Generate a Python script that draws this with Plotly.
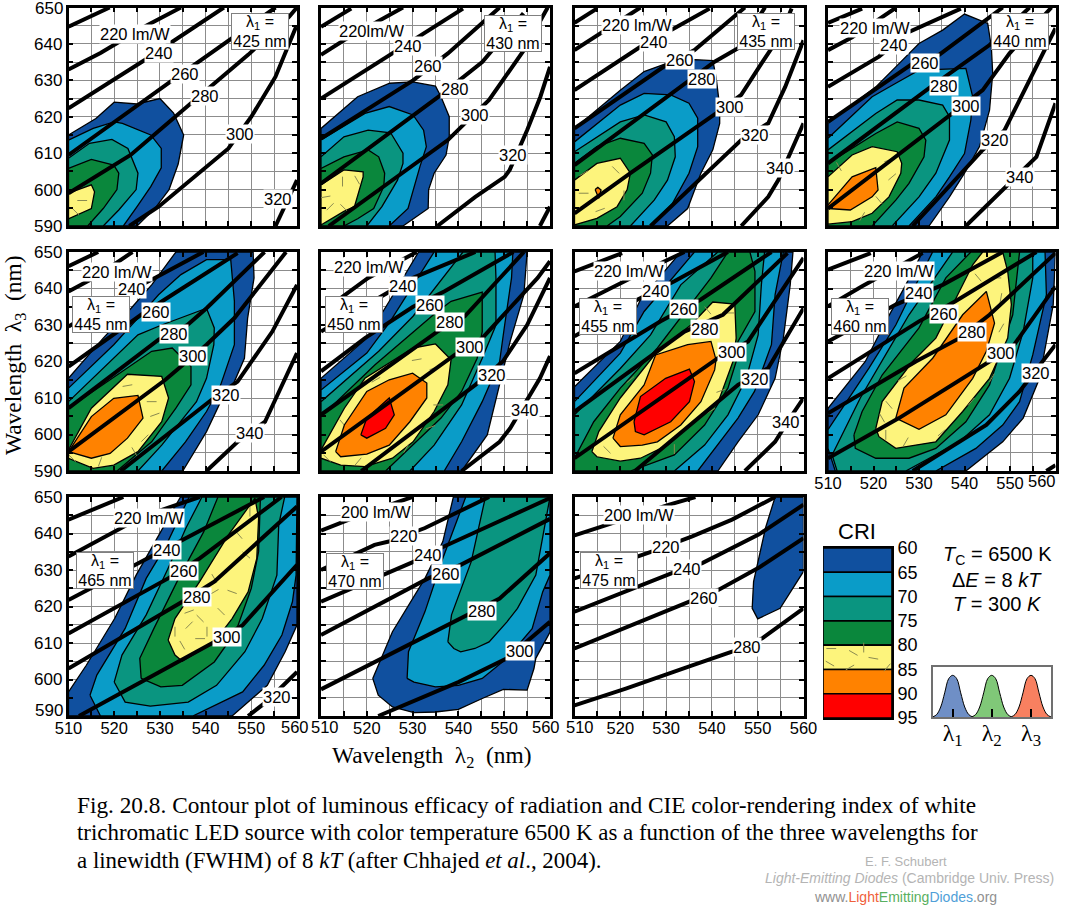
import plotly.graph_objects as go

W, H = 1066, 905
SANS = "Liberation Sans"
SERIF = "Liberation Serif"

CRI_LEVELS = [60, 65, 70, 75, 80, 85, 90, 95]
CRI_COLORS = ["#10509f", "#0a9cc8", "#0a9580", "#0a873c", "#fdf47c", "#ff8200", "#ff0000"]

# ---- lambda1 = 425 nm
P425_REGIONS = {
 60: [(510,615),(516,619.5),(520,624),(525,623.5),(530,625),(533,621),(535.2,615),(534,607),(532,600),(529,595),(525,590),(510,590)],
 65: [(510,613.6),(515.4,616.8),(520,618.6),(521.8,618.2),(528,615),(530.3,611.3),(530.3,606),(528,600.8),(525,595.3),(522,590),(510,590)],
 70: [(510,608.6),(514.6,612.7),(519.5,613.8),(523,611.3),(525.2,604.5),(524.8,600),(521,594.4),(517.6,590),(510,590)],
 75: [(510,605.8),(515,608.3),(519.9,606.7),(521,604.5),(520.6,600),(517.6,594.8),(514.2,590),(510,590)],
 80: [(510,599),(515,601.3),(515.7,599.4),(515,594.8),(510,592)],
}
P425_LINES = [
 [(510,644.7),(519,650)],
 [(510,633),(517,637.5),(527,645),(534.6,650)],
 [(510,622.3),(526.7,635.6),(544,650)],
 [(510,609.5),(532.7,630),(555.3,650)],
 [(510,599),(523.6,609.5),(536.8,623.7),(549.3,637),(558.3,647.5),(560,650)],
 [(523.3,590),(529.7,595.3),(545,611.3),(550,620),(555.3,631),(559.8,644.7)],
 [(555.3,590),(560,602.6)],
]
P425_LABELS = [(524.6,642.6,"220 lm/W"),(529.7,637.4,"240"),(535.6,631.7,"260"),(539.9,625.7,"280"),(547.6,615.4,"300"),(555.8,597.4,"320")]
P425_BOX = (551.8,643.3)
P425_DASHES = [(513,597,90),(511.5,594,-45)]

# ---- lambda1 = 430 nm
P430_REGIONS = {
 60: [(510,616.8),(518,625.5),(525,629.2),(530,629.6),(535,628.4),(536.2,625.5),(538,620),(538,614.5),(537.3,609.5),(534.7,604.5),(533.5,600),(533.4,594.8),(527.9,590),(510,590)],
 65: [(510,613.6),(519.6,620.9),(524.9,622.8),(530.1,620.5),(532.4,616.3),(533,611.8),(531.6,606.3),(529.8,598),(529,594.8),(524.9,590),(510,590)],
 70: [(510,609),(515,614.5),(520.3,616.3),(525.2,615.6),(527.9,610),(527.9,607.2),(526.7,602.6),(523.3,595.3),(520,590),(510,590)],
 75: [(510,605.8),(515,609),(520.3,610.9),(522.6,609),(523.9,604.5),(523.7,600.8),(521.5,594.8),(518,592),(515,590),(510,590)],
 80: [(510,601.3),(515,605.4),(519.2,604.9),(519.2,603.5),(517.3,595.3),(515,594),(510,590.3)],
}
P430_LINES = [
 [(510,644.7),(516.6,649.7)],
 [(510,637),(515,641),(527.9,650)],
 [(510,625),(525.6,637.4),(541,649.7)],
 [(510,614),(530.1,630),(537.7,637.4),(549,650)],
 [(510,601.7),(536.2,626),(545.2,635),(554.2,648.4)],
 [(511.7,590),(537.7,613.6),(541.4,618.2),(546.7,624.6),(554.3,638.3),(558.5,648),(559.5,650)],
 [(535.4,590),(543.7,598),(550.1,603.5),(551.2,605.4),(555,616.3),(557.9,625.5),(560,633.7)],
 [(557.8,590),(560,595.3)],
]
P430_LABELS = [(521.1,643.6,"220lm/W"),(529,639.5,"240"),(533.3,633.9,"260"),(539.2,627.7,"280"),(543.7,620.5,"300"),(552,609.5,"320")]
P430_BOX = (552,642.9)
P430_DASHES = [(514.7,602.2,0),(512,595.3,45),(515,595,-45),(517.9,602.6,-30),(511,598,80)]

# ---- lambda1 = 435 nm
P435_REGIONS = {
 60: [(510,616.8),(520,627.3),(525.2,632.4),(530,634.6),(536.2,635.7),(540.2,635.4),(540.9,631),(541.7,622.8),(541.7,618.2),(540.2,610.9),(537.6,604.5),(535.4,597.1),(534.7,594.8),(530.3,590),(510,590)],
 65: [(510,613.1),(520,623.2),(525.2,626.4),(531,626),(535,623.7),(536.9,619.6),(536.9,611.8),(535,604.5),(531.4,596.2),(526.6,590),(510,590)],
 70: [(510,610.4),(520,618.6),(525.2,620.5),(530,618.6),(531.8,614.5),(532,609),(530.3,602.6),(527.4,597.1),(522.2,590),(510,590)],
 75: [(510,607.2),(514.9,611.8),(520,614.1),(525.2,612.7),(527,609.5),(526.6,604.5),(524.8,599),(520,592.6),(517.1,590),(510,590)],
 80: [(510,602.6),(514.9,607.2),(520,608.6),(522.2,604.5),(521.5,600),(519.3,595.3),(514.9,592.1),(510,590.3)],
 85: [(514.5,600),(515.1,600.6),(515.8,599.9),(515.3,597.6)],
}
P435_LINES = [
 [(510,645.8),(514.9,649.7)],
 [(510,638.3),(515.6,642.9),(524.4,650)],
 [(510,627.3),(524.4,639.2),(531.8,644.3),(539.5,649.7)],
 [(510,616.8),(530,634.2),(536.2,638.3),(547.2,650)],
 [(510,606.7),(534.7,629.6),(540.6,635.1),(545.7,638.8),(551.6,650)],
 [(510,593.5),(522.2,604.5),(540.9,620.9),(546.4,626),(550.8,634.6),(555.2,642.9),(557.4,649.7)],
 [(526.6,590),(546.4,613.6),(552.3,618.2),(556,628.2),(560,641)],
 [(546.4,590),(552.3,598),(554.5,602.6),(560,618.2)],
]
P435_LABELS = [(523.7,645.2,"220 lm/W"),(527.4,640.4,"240"),(533,635.7,"260"),(537.9,630.3,"280"),(543.9,622.8,"300"),(549.5,615,"320"),(554.9,605.8,"340")]
P435_BOX = (551.9,643.3)
P435_DASHES = [(512,599,90),(519,605.4,-45),(512,604.5,60),(520.8,598.4,0),(515.6,594.4,70)]

# ---- lambda1 = 440 nm
P440_REGIONS = {
 60: [(510,618.2),(520.5,628.2),(524.9,633.7),(530,640.1),(535.2,643.8),(540,648.2),(545.1,645.6),(545.9,639.2),(546.2,631.9),(545.5,621.8),(543.3,611.8),(540,604.5),(536.7,598),(532.2,590),(510,590)],
 65: [(510,614.1),(519.7,625.5),(524.9,629.2),(530,632.8),(540.3,633.3),(541.8,625.5),(541.4,619.1),(540,609.9),(536.7,603.5),(533.7,598),(527.8,590),(510,590)],
 70: [(510,610.9),(520.5,620.9),(525.2,624.6),(530,624.6),(535.2,623.2),(536.7,620),(536.7,613.6),(533.7,604.5),(530,598),(524.1,590),(510,590)],
 75: [(510,607.2),(520.5,615.4),(525.2,618.6),(530,616.8),(531.5,613.6),(531.1,609),(527.8,601.7),(524.9,597.1),(519.7,590),(510,590)],
 80: [(510,603.5),(515.3,609.5),(519.7,611.8),(525.2,610.4),(526.2,607.2),(526,604.5),(523.4,598),(519.7,593.5),(515.3,591.2),(510,590.5)],
 85: [(510,595.8),(515.3,603.5),(520.5,606),(521,599.9),(519.7,598),(514.9,594.4),(510,594.8)],
}
P440_LINES = [
 [(510,645.8),(515.3,648.4),(517.5,649.7)],
 [(510,638.3),(515.3,641.8),(525,650)],
 [(510,628.2),(521.2,636.5),(527.8,643.3),(539.2,649.7)],
 [(510,618.6),(528.6,634.6),(534.4,637),(545.5,647.5),(548.4,650)],
 [(510,607.2),(532.6,628.2),(545.5,639.7),(554.3,650)],
 [(510,594.8),(537.4,620.9),(544,627.3),(549.9,637.4),(557.3,647.5),(559.1,650)],
 [(528.6,590),(544,610.9),(548.8,616.3),(555.1,631.9),(559.5,642.9),(560,644.3)],
 [(540.3,590),(548.4,599.9),(555.8,609),(560,623.7)],
]
P440_LABELS = [(520.3,644.5,"220 lm/W"),(524.5,639.7,"240"),(531.4,634.8,"260"),(535.6,628.4,"280"),(540.3,622.9,"300"),(546.6,613.6,"320"),(552.1,603.5,"340")]
P440_BOX = (552.3,643.3)
P440_DASHES = [(512.4,606.3,-30),(524.1,603.5,50),(523.4,608.1,70),(517.5,592.6,30),(521.2,597.1,-40)]

# ---- lambda1 = 445 nm
P445_REGIONS = {
 60: [(510,615.4),(517.6,626.4),(523.7,634.6),(528.2,641),(533.5,650),(550.4,650),(550.6,642.9),(549.2,631.9),(548.5,620.9),(546.3,614.5),(543.3,609),(540.2,600.8),(535,590),(510,590)],
 65: [(510,612.7),(519.9,624.6),(525.2,631.9),(529.7,638.3),(534.6,643.8),(540.2,647.9),(545.5,647.9),(546.3,636.5),(546.3,624.6),(543.3,613.6),(540.2,606.3),(535.6,598),(530.4,590),(510,590)],
 70: [(510,609),(525.2,627.3),(530.4,630),(540.2,634.6),(541.9,629.2),(541.8,624.6),(540.2,615.4),(538,609),(530.4,597.1),(525.2,590),(510,590)],
 75: [(510,607.2),(528.2,622.8),(532.7,623.7),(536.8,618.6),(536.8,613.6),(533.5,607.2),(528.2,598),(520.6,590),(510,590)],
 80: [(510,595.8),(515,607.2),(522.9,616.5),(530.4,615.9),(531.9,610),(530.4,603.5),(525.2,595.3),(519.9,591.6),(515.4,590.7),(510,593.5)],
 85: [(510,595.3),(515,604.9),(519.9,609.9),(525.2,610.7),(526.3,604.5),(522.9,599),(519.1,594.8),(515,593.5)],
}
P445_LINES = [
 [(510,646.1),(516.5,650)],
 [(510,639.2),(516.1,643.3),(524,650)],
 [(510,629.6),(524,639.7),(528.9,642.9),(539.5,650)],
 [(510,618.6),(517.6,625.5),(525.9,632.8),(532.7,638.3),(547,649.7)],
 [(510,607.2),(529.7,626),(536,630),(540.2,634.6),(552.9,650)],
 [(510,595.3),(531.2,615),(540.2,624.6),(546.3,631.9),(557.6,650)],
 [(521.4,590),(541.8,610),(547,614.5),(554.6,628.2),(560,641)],
 [(540.2,590),(547,598),(553,603.5),(560,622.3)],
]
P445_LABELS = [(520.6,644.5,"220 lm/W"),(524,639.9,"240"),(529.1,633.5,"260"),(533.1,627.5,"280"),(537.2,621.4,"300"),(544.4,610.9,"320"),(549.7,600.3,"340")]
P445_BOX = (517.1,632.8)
P445_DASHES = [(522.9,613.4,80),(528.2,609,90),(528.9,605.4,70),(526.7,599,45),(510.8,593.5,-45),(513.1,600,40),(516.9,592.5,20),(524.4,595.3,-30)]

# ---- lambda1 = 450 nm
P450_REGIONS = {
 60: [(510,615.4),(520,626.4),(524.9,636.5),(531.3,650),(555,650),(554.3,638.3),(551.3,625.5),(549.7,617.3),(546.3,599.9),(540.7,590),(510,590)],
 65: [(510,612.2),(520,622.3),(524.9,630.6),(530.1,641),(534.7,650),(551.9,650),(551.6,642.9),(550.1,630),(549,620),(545.2,609),(540.7,598),(536.9,590),(510,590)],
 70: [(510,609),(522.6,622.8),(530.1,632.4),(541,650),(548,650),(548.2,642.9),(548.2,630),(545.2,620.9),(540.7,608.1),(534.7,597.1),(529.4,590),(510,590)],
 75: [(510,604.9),(521.8,619.1),(535,633.3),(538.4,636.5),(545.2,639),(545.2,628.2),(544.1,620.9),(540.7,611.8),(536.2,604.5),(530.1,597.1),(524.1,590),(510,590)],
 80: [(510,595.8),(515.1,607.2),(519.6,615.4),(530.1,623.7),(535,624.8),(538.4,620.5),(537.7,613.6),(534.7,606.3),(530.1,598),(525.6,593.5),(519.6,591.2),(514.3,591.6),(510,593.5)],
 85: [(513.2,595.3),(515.1,602.6),(520,611.8),(524.9,615),(530,616.8),(533.1,614.1),(533.1,610),(529.4,603.5),(524.9,597.1),(520,594.6),(514.3,593.9)],
 90: [(518.7,599.9),(520,604.5),(524.9,610),(526,605.4),(524.1,601.7),(520,599)],
}
P450_LINES = [
 [(512.8,636),(520.3,642.9),(530.9,650)],
 [(510,628.2),(523.7,638.3),(530.1,642.9),(543.7,650)],
 [(510,617.3),(519.6,626.4),(530.1,635),(536.9,639.2),(552,650)],
 [(510,605.4),(535.4,628.2),(541.4,632.4),(554.3,650)],
 [(510,595.3),(539.2,621.8),(545.2,626.4),(557.3,642.9),(560,647.5)],
 [(518.8,590),(543.7,613.6),(549.7,620),(555,630),(560,642.9)],
 [(540.7,590),(549,598),(551.3,601.7),(557.8,615.4),(560,621.5)],
]
P450_LABELS = [(520.5,645.9,"220 lm/W"),(528,640.6,"240"),(533.7,635.4,"260"),(538.2,630.7,"280"),(542.6,624.1,"300"),(547.3,616.2,"320"),(554.6,606.6,"340")]
P450_BOX = (517.3,633)
P450_DASHES = [(530.9,620.5,80),(534.7,618.2,70),(535.6,608.1,90),(533.9,602,70),(528.6,596.2,30),(518.1,592.6,40),(511.3,593.5,-45),(514.8,603,-40),(522,615,60)]

# ---- lambda1 = 455 nm
P455_REGIONS = {
 60: [(510,613.1),(520,625.5),(524.4,636.9),(533.2,650),(557.7,650),(557.1,641),(555.6,626.4),(553.8,615.4),(550.1,605.4),(545.7,598),(541.3,590),(510,590)],
 65: [(510,609),(520,622.3),(525.2,633.7),(536.2,650),(555.6,650),(553.8,638.3),(553,624.6),(549.3,611.8),(545.7,604.5),(536.9,590),(510,590)],
 70: [(510,605.4),(520,618.1),(526.6,627.3),(533.2,641),(541.3,650),(551.5,650),(550.8,641),(550.1,627.3),(547.5,615.4),(543.5,605.4),(538.4,597.1),(531.8,590),(510,590)],
 75: [(510,593.5),(514.2,603.5),(520,612.7),(528.1,623.7),(539.8,642.9),(543.5,650),(548.3,650),(549.4,644.7),(549.4,633.7),(545.7,625.5),(545.3,620),(543.5,612.7),(538.4,602.6),(531.8,594.4),(522.2,590),(510,590)],
 80: [(513.8,595.3),(515.3,600.8),(520,610),(528.1,622.8),(535.4,630),(540.2,636.3),(545,635.7),(545.3,626.4),(544.6,620),(541.4,609),(536.9,604.5),(530.3,597.1),(524.4,593.5),(520,592.7),(514.9,593.9)],
 85: [(518.4,599),(520,605.4),(525.2,613.6),(527.7,621.8),(534.7,624.6),(539.8,625.5),(540.9,620.5),(540.6,617.7),(537.6,609),(533.2,602.6),(528.1,598),(524.8,597.1),(520,596.7)],
 90: [(523,603.5),(524.4,610.4),(529.9,615.4),(535.1,617.9),(536.2,614.5),(535.1,609),(531,603.5),(525.2,599.9),(523.3,600.8)],
}
P455_LINES = [
 [(510,644.7),(520.4,649.7)],
 [(510,635.1),(520.8,642),(528.1,646.5),(534,650)],
 [(510,626.9),(523.7,636.9),(531.8,642),(543.5,650)],
 [(510,616.8),(528.8,631),(537.6,637),(553,650)],
 [(510,606.3),(534,628.2),(542.4,632.8),(556.5,649.7)],
 [(510,593.5),(541.3,620.9),(547.9,625.5),(560,648.4)],
 [(523.2,590),(545.7,613.6),(552.3,618.2),(560,634.6)],
 [(547.2,590),(553.8,598),(556.8,604),(560,610)],
]
P455_LABELS = [(521.9,644.7,"220 lm/W"),(527.7,639.2,"240"),(534,634.4,"260"),(538.4,628.9,"280"),(544.3,622.6,"300"),(549.5,615.2,"320"),(556.2,603.3,"340")]
P455_BOX = (517.3,632.4)
P455_DASHES = [(517.1,595.8,-45),(531.8,596,0),(539.8,606.5,60),(539.1,634,-40),(543.8,633.3,90),(542,612,70),(522.2,615,50)]

# ---- lambda1 = 460 nm
P460_REGIONS = {
 60: [(510,607.2),(518.2,620),(522.7,631),(527.1,641),(530.8,650),(560,650),(559.5,635.6),(556.5,615.4),(552.9,604.5),(548.4,598),(540.3,590),(510,590)],
 65: [(510,601.3),(519,618.2),(524.9,630),(527.8,637.4),(533,650),(557.7,650),(558,638.3),(555,621.8),(552.1,609),(548.4,602.6),(542.5,596.2),(533.7,590),(511.6,590),(510,596.2)],
 70: [(510.9,594.4),(517.1,610),(524.9,626.6),(527.8,632.8),(537.4,650),(555,650),(555,642.9),(552.9,628.2),(549.9,615.4),(545.5,605.4),(538.9,598),(527.1,590),(512,590)],
 75: [(515.7,599.9),(517.5,606.3),(521.9,616.3),(530,629.2),(535.9,642.9),(541.4,650),(552.1,650),(551.4,642),(550.6,632.8),(548.4,624.6),(545.5,613.6),(540.3,603.5),(533.7,596.2),(527.8,593.5),(520.5,593.5),(516,596.2)],
 80: [(520.5,601.7),(521.9,609),(528.6,620),(533.7,626.4),(537.8,636.5),(541.8,646.5),(544,650),(548.4,650),(549.5,644.7),(550.3,635.6),(549.5,626.4),(545.5,615.4),(539.6,606.3),(533.7,598),(529.3,597.1),(524.9,596.2),(521.2,599.4)],
 85: [(524.9,604.5),(526.7,612.7),(533,620.9),(539.6,632.8),(544.8,639.2),(546.6,630.5),(544.8,622.8),(541.8,615.4),(535.9,605.4),(530,601.4)],
}
P460_LINES = [
 [(510,645.2),(519.4,649.7)],
 [(510,635.1),(517.5,640.6),(530.8,649.7)],
 [(510,625.5),(524.9,635.6),(535.2,641),(548.4,650)],
 [(510,615.4),(530,631),(538,636.5),(555.8,650)],
 [(510,605.8),(529.3,620),(538.9,626.4),(545.5,632.8),(560,649.7)],
 [(510,593.5),(525.6,604.5),(545.5,620),(549.9,622.8),(560,640.6)],
 [(528.6,590),(544.8,602.6),(552.1,611.8),(560,624.6)],
 [(558,590),(560,591.6)],
]
P460_LABELS = [(525.6,644.9,"220 lm/W"),(530,638.8,"240"),(535.6,633,"260"),(541.6,628.1,"280"),(548.1,622.3,"300"),(555.8,616.8,"320")]
P460_BOX = (517.1,632.4)
P460_DASHES = [(527.1,598,30),(535,600.5,50),(541.5,609,40),(546,615.5,30),(543,643,-40),(547,642.9,90),(548,637.4,10),(523.4,608.1,-40),(521.9,604.5,-30),(526.3,615.4,60),(548.1,629.2,30),(522.7,599.9,0)]

# ---- lambda1 = 465 nm
P465_REGIONS = {
 60: [(510,596.6),(513.9,603.9),(520.1,616.7),(524.8,628.6),(530.2,640.5),(534.5,650),(560,650),(560,614.9),(557.4,607.6),(553.5,598.4),(545.8,590),(510,590)],
 65: [(514.7,595.7),(516.2,601.2),(522.4,614),(527,627.7),(531.4,636.9),(536.4,650),(560,650),(559.8,628.6),(559,621.3),(556.7,612.2),(552.8,603.9),(548.1,596.6),(537.2,590),(517,590)],
 70: [(520,599.3),(521.7,606.7),(527,617.7),(531.8,630.5),(535.7,641.5),(539.2,650),(557.3,650),(556,642.4),(555.6,628.6),(552.4,616.7),(548.6,607.6),(542.4,598.4),(536.2,593.8),(527.9,592.7),(522.4,593.8)],
 75: [(525.9,600.3),(525.6,605.8),(528.7,614),(534.1,627.7),(539.6,640.5),(542.7,650),(552,650),(551.6,635.1),(550,625),(546.6,613.1),(541.9,604.8),(534.9,598.4),(530.2,598)],
 80: [(531.8,610.8),(533.3,616.7),(538.7,626.8),(545,639.6),(550.8,649.7),(551.6,644.2),(551.2,633.2),(549.3,624),(545.8,616.7),(541.9,610.3),(534.9,605),(533.3,606.7)],
}
P465_LINES = [
 [(510,643.8),(522,650)],
 [(510,633.7),(520.1,640.5),(526.3,644.7),(538.7,650)],
 [(510,621.8),(528.7,634.1),(534.9,638.3),(552.8,650)],
 [(510,612.6),(531.8,627.7),(538.7,633.2),(556.6,650)],
 [(510,603),(534.9,621.3),(541.9,626.8),(560,647.4)],
 [(512.3,590),(534.1,604.8),(541.9,610.3),(548.1,614.9),(560,631.4)],
 [(549.3,590),(553.2,593.8),(560,602.1)],
]
P465_LABELS = [(527.7,644.2,"220 lm/W"),(531.6,635.5,"240"),(535.3,629.7,"260"),(538.1,622.7,"280"),(544.7,611.7,"300"),(555.6,595.2,"320")]
P465_BOX = (517.9,630)
P465_DASHES = [(533.3,613.1,0),(536.4,614.9,45),(538.8,616.7,-45),(534.9,609.4,-30),(540.3,613.1,0),(536.4,618.6,70),(543.4,618.6,-45),(541.9,624,60),(545,630.5,45),(548.9,634.1,-50),(547.3,639.6,-40),(549.7,646,0),(545.8,624,-70),(538.8,611.2,90),(541.9,627.7,-30)]

# ---- lambda1 = 470 nm
P470_REGIONS = {
 60: [(521.3,600.3),(522.5,595.7),(525.6,592.5),(530.3,590.9),(535,591.1),(540,591.8),(545.2,594.8),(549.8,597.3),(555,597.1),(556.5,603),(556.9,605.8),(560,613),(560,650),(538.9,650),(536.6,637.8),(532.7,627.7),(525.6,613.1)],
 65: [(528.8,600.3),(529.1,607.6),(532.7,618.6),(536.6,633.2),(541.6,650),(560,650),(560,628.6),(558.4,624),(556.1,613.9),(550.6,605.8),(545.2,600.3),(540,598.4),(535,598),(530.3,599.3)],
 70: [(537.7,610.3),(538.5,617.7),(542.8,632.3),(545.9,650),(560,650),(558.8,641.5),(556.9,628.6),(552.9,619.5),(550.6,615.8),(546.7,610.3),(543.6,608.5),(540.5,607.6),(539,608.5)],
}
P470_LINES = [
 [(510,640.8),(518.6,645),(529.9,650)],
 [(510,630),(521.7,636.9),(524.8,637.8),(532.7,641.5),(546.7,650)],
 [(510,621.3),(530.3,632.3),(536.6,636.3),(560,649.7)],
 [(510,612.2),(533.4,627.7),(540.5,631.4),(560,644)],
 [(510,597.3),(542,617.7),(549,622.2),(560,634.6)],
 [(522.5,590),(540,599.3),(550.6,605.8),(560,615.8)],
]
P470_LABELS = [(521.9,645.9,"200 lm/W"),(528.1,639.2,"220"),(533.3,634.1,"240"),(537.3,628.9,"260"),(545.2,618.8,"280"),(553.5,607.9,"300")]
P470_BOX = (517.4,629.7)
P470_DASHES = []

# ---- lambda1 = 475 nm
P475_REGIONS = {
 60: [(553.8,650),(560,650),(560,629.6),(554.9,619.5),(550,616.6),(548.8,619.5),(549.1,626.8),(551.7,641.5)],
}
P475_LINES = [
 [(510,639.5),(521.2,644.2),(530.7,647.9),(536.4,650)],
 [(510,627.7),(527,635.1),(535.7,639.2),(544.4,643.8),(553.8,650)],
 [(510,618.6),(531.4,629.2),(537.9,631.9),(550.2,639.7),(560,647.9)],
 [(510,608.5),(535,621.3),(541.5,624.6),(550.2,630.6),(560,638.7)],
 [(510,592.9),(521.2,597.5),(535.7,603.9),(544.4,607.6),(551,611.3),(560,619.5)],
]
P475_LABELS = [(524.1,645.2,"200 lm/W"),(529.9,636.2,"220"),(534.6,630.2,"240"),(538.3,622.2,"260"),(547.7,608.9,"280")]
P475_BOX = (517.5,629.8)
P475_DASHES = []

LAMBDA1 = [425, 430, 435, 440, 445, 450, 455, 460, 465, 470, 475]
REGIONS = [P425_REGIONS, P430_REGIONS, P435_REGIONS, P440_REGIONS, P445_REGIONS, P450_REGIONS,
           P455_REGIONS, P460_REGIONS, P465_REGIONS, P470_REGIONS, P475_REGIONS]
LINES = [P425_LINES, P430_LINES, P435_LINES, P440_LINES, P445_LINES, P450_LINES,
         P455_LINES, P460_LINES, P465_LINES, P470_LINES, P475_LINES]
LABELS = [P425_LABELS, P430_LABELS, P435_LABELS, P440_LABELS, P445_LABELS, P450_LABELS,
          P455_LABELS, P460_LABELS, P465_LABELS, P470_LABELS, P475_LABELS]
BOXES = [P425_BOX, P430_BOX, P435_BOX, P440_BOX, P445_BOX, P450_BOX,
         P455_BOX, P460_BOX, P465_BOX, P470_BOX, P475_BOX]
DASHES = [P425_DASHES, P430_DASHES, P435_DASHES, P440_DASHES, P445_DASHES, P450_DASHES,
          P455_DASHES, P460_DASHES, P465_DASHES, P470_DASHES, P475_DASHES]
LEGEND_DASHES = [(.12,80.7,90),(.44,81.6,-60),(.59,80.5,0),(.73,82.7,-80),(.1,83.8,-60),(.39,84.6,60),(.93,84.6,40)]

X_TICKS = list(range(510, 561, 5))
Y_TICKS = list(range(590, 651, 5))
# edge labels that sit off their tick in the picture, so they are placed as text
X_EDGE_LABELS = {460: [560], 465: [560], 470: [510, 560], 475: [510]}
Y_EDGE_LABELS = {0: [650], 2: [590]}

# Spectrum inset: three bells
BELL_OFFSETS = [-20, -16, -12, -8, -4, 0, 4, 8, 12, 16, 20]
BELL_HEIGHTS = [0, 0.06, 0.24, 0.58, 0.92, 1, 0.92, 0.58, 0.24, 0.06, 0]
BELL_CENTERS = [19.7, 58.7, 98]
BELL_COLORS = ["#6f8fc6", "#80c878", "#f88060"]

COLS = [(68.5, 297), (321, 550), (574.5, 803.5), (828, 1055.5)]
ROWS = [(7.5, 226), (252, 471), (497, 716)]
LEGEND_BOX = (823, 892, 548, 718)
INSET_BOX = (933, 1051, 667, 717)


def px(x):
    return x / W


def py(y):
    return 1 - y / H


fig = go.Figure()
annotations = []
layout = {}


def axis_style(**kw):
    d = dict(showline=True, linecolor="black", linewidth=2.5, mirror="allticks",
             ticks="inside", ticklen=5, tickwidth=1.6, tickcolor="black",
             showgrid=True, gridcolor="#8c8c8c", gridwidth=0.7, zeroline=False,
             tickfont=dict(family=SANS, size=17, color="black"))
    d.update(kw)
    return d


def dash_trace(items, xr, yr):
    return go.Scatter(x=[d[0] for d in items], y=[d[1] for d in items], xaxis=xr, yaxis=yr,
                      mode="markers", hoverinfo="skip", showlegend=False,
                      marker=dict(symbol="line-ns", size=7, angle=[d[2] for d in items],
                                  color="#8a8a50", line=dict(color="#8a8a50", width=1)))


for i, lam in enumerate(LAMBDA1):
    n = i + 1
    r, c = i // 4, i % 4
    xr, yr = f"x{n}", f"y{n}"
    show_x = lam >= 460
    show_y = c == 0
    edge = X_EDGE_LABELS.get(lam, [])
    yedge = Y_EDGE_LABELS.get(r, [])
    layout[f"xaxis{n}"] = axis_style(
        domain=[px(COLS[c][0]), px(COLS[c][1])], range=[510, 560], anchor=yr,
        tickmode="array", tickvals=X_TICKS,
        ticktext=[str(v) if v % 10 == 0 and show_x and v not in edge else "" for v in X_TICKS],
        tickangle=0, ticklabelstandoff=-5, tickfont=dict(family=SANS, size=16.5, color="black"))
    layout[f"yaxis{n}"] = axis_style(
        domain=[py(ROWS[r][1]), py(ROWS[r][0])], range=[590, 650], anchor=xr,
        tickmode="array", tickvals=Y_TICKS,
        ticktext=[str(v) if v % 10 == 0 and show_y and v not in yedge else "" for v in Y_TICKS])
    for level, poly in REGIONS[i].items():
        idx = CRI_LEVELS.index(level)
        closed = poly + [poly[0]]
        fig.add_trace(go.Scatter(x=[p[0] for p in closed], y=[p[1] for p in closed],
                                 xaxis=xr, yaxis=yr, mode="lines", fill="toself",
                                 fillcolor=CRI_COLORS[idx], line=dict(color="black", width=1.3),
                                 hoverinfo="skip", showlegend=False))
        if level == 80 and DASHES[i]:
            fig.add_trace(dash_trace(DASHES[i], xr, yr))
    for ln in LINES[i]:
        fig.add_trace(go.Scatter(x=[p[0] for p in ln], y=[p[1] for p in ln],
                                 xaxis=xr, yaxis=yr, mode="lines",
                                 line=dict(color="black", width=4),
                                 hoverinfo="skip", showlegend=False))
    for lx, ly, txt in LABELS[i]:
        annotations.append(dict(x=lx, y=ly, xref=xr, yref=yr, text=txt, showarrow=False,
                                font=dict(family=SANS, size=16.5, color="black"),
                                bgcolor="white", borderpad=0))
    bx, by = BOXES[i]
    annotations.append(dict(x=bx, y=by, xref=xr, yref=yr, showarrow=False,
                            text=f"λ<sub>1</sub> =<br>{lam} nm", width=56, height=35,
                            font=dict(family=SANS, size=16, color="black"),
                            bgcolor="white", bordercolor="#808080", borderwidth=1, borderpad=0))

# CRI legend as stacked bars on its own axis
LN = len(LAMBDA1) + 1
for k in range(len(CRI_COLORS)):
    fig.add_trace(go.Bar(x=[0.5], y=[CRI_LEVELS[k + 1] - CRI_LEVELS[k]], base=[CRI_LEVELS[k]], width=[1],
                         xaxis=f"x{LN}", yaxis=f"y{LN}",
                         marker=dict(color=CRI_COLORS[k], line=dict(color="black", width=1.6)),
                         hoverinfo="skip", showlegend=False))
fig.add_trace(dash_trace(LEGEND_DASHES, f"x{LN}", f"y{LN}"))
layout[f"xaxis{LN}"] = dict(domain=[px(LEGEND_BOX[0]), px(LEGEND_BOX[1])], range=[0, 1], anchor=f"y{LN}",
                            showticklabels=False, ticks="", showgrid=False, zeroline=False,
                            showline=True, mirror=True, linecolor="black", linewidth=1.6)
layout[f"yaxis{LN}"] = dict(domain=[py(LEGEND_BOX[3]), py(LEGEND_BOX[2])], range=[95, 60], anchor=f"x{LN}",
                            side="right", tickmode="array", tickvals=CRI_LEVELS, ticks="",
                            showgrid=False, zeroline=False,
                            tickfont=dict(family=SANS, size=18, color="black"),
                            showline=True, linecolor="black", linewidth=1.6)

# Spectrum inset
IN = LN + 1
for cx, colr in zip(BELL_CENTERS, BELL_COLORS):
    fig.add_trace(go.Scatter(x=[cx + o for o in BELL_OFFSETS], y=BELL_HEIGHTS,
                             xaxis=f"x{IN}", yaxis=f"y{IN}", mode="lines", fill="toself",
                             fillcolor=colr, line=dict(color="black", width=1, shape="spline"),
                             hoverinfo="skip", showlegend=False))
layout[f"xaxis{IN}"] = dict(domain=[px(INSET_BOX[0]), px(INSET_BOX[1])], range=[0, 118], anchor=f"y{IN}",
                            tickmode="array", tickvals=BELL_CENTERS,
                            ticktext=["λ<sub>1</sub>", "λ<sub>2</sub>", "λ<sub>3</sub>"],
                            ticks="inside", ticklen=8, tickwidth=2, tickcolor="black",
                            ticklabelstandoff=-7,
                            tickfont=dict(family=SERIF, size=24, color="black"),
                            showgrid=False, zeroline=False, showline=True, mirror=True,
                            linecolor="#707070", linewidth=1.5)
layout[f"yaxis{IN}"] = dict(domain=[py(INSET_BOX[3]), py(INSET_BOX[2])], range=[0, 1.2], anchor=f"x{IN}",
                            showticklabels=False, ticks="", showgrid=False, zeroline=False,
                            showline=True, mirror=True, linecolor="#707070", linewidth=1.5)


def note(x, y, text, size, family=SANS, color="black", anchor="center", angle=0):
    annotations.append(dict(x=px(x), y=py(y), xref="paper", yref="paper", text=text, showarrow=False,
                            xanchor=anchor, yanchor="middle", textangle=angle,
                            font=dict(family=family, size=size, color=color)))


note(65, 9, "650", 17, anchor="right")
note(65, 710, "590", 17, anchor="right")
note(1042, 481, "560", 16.5)
note(295, 727, "560", 16.5)
note(325, 727, "510", 16.5)
note(546, 727, "560", 16.5)
note(580, 727, "510", 16.5)
note(857, 531, "CRI", 22)
note(997, 555, "<i>T</i><sub>C</sub> = 6500 K", 20)
note(997, 580, "Δ<i>E</i> = 8 <i>kT</i>", 20)
note(997, 604, "<i>T</i> = 300 <i>K</i>", 20)
note(15, 355, "Wavelength  λ<sub>3</sub>  (nm)", 23.4, SERIF, angle=-90)
note(432, 757, "Wavelength  λ<sub>2</sub>  (nm)", 23.4, SERIF)
note(75, 805, "Fig. 20.8. Contour plot of luminous efficacy of radiation and CIE color-rendering index of white", 23.3, SERIF, anchor="left")
note(75, 832, "trichromatic LED source with color temperature 6500 K as a function of the three wavelengths for", 22.9, SERIF, anchor="left")
note(75, 860, "a linewidth (FWHM) of 8 <i>kT</i> (after Chhajed <i>et al</i>., 2004).", 22.9, SERIF, anchor="left")
note(906, 861, "E. F. Schubert", 13, color="#b4b4b4")
note(1056, 878, "<i>Light-Emitting Diodes</i> (Cambridge Univ. Press)", 14, color="#b4b4b4", anchor="right")
note(905, 897, "www.<span style='color:#f0603a'>Light</span><span style='color:#58b060'>Emitting</span>"
               "<span style='color:#50a0d8'>Diodes</span>.org", 14, color="#909090")

fig.update_layout(width=W, height=H, autosize=False,
                  margin=dict(l=0, r=0, t=0, b=0, pad=0, autoexpand=False),
                  paper_bgcolor="white", plot_bgcolor="white", showlegend=False,
                  barmode="overlay", annotations=annotations, **layout)
fig.write_html("out.html", config={"displayModeBar": False},
               post_script="document.body.style.margin='0';")
